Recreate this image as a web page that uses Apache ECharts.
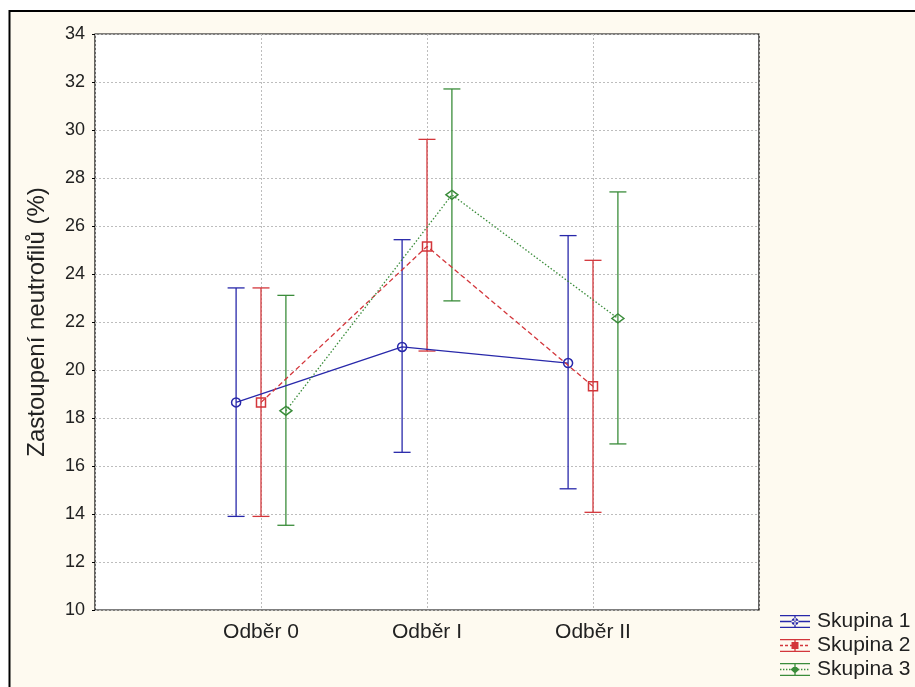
<!DOCTYPE html>
<html>
<head>
<meta charset="utf-8">
<script src="https://cdn.jsdelivr.net/npm/echarts@6/dist/echarts.min.js"></script>
<style>
html,body{margin:0;padding:0;background:#fff;}
#chart{width:915px;height:687px;}
</style>
</head>
<body>
<div id="chart"></div>
<script>
// ---- data ----
const categories = ['Odběr 0', 'Odběr I', 'Odběr II'];
const groupNames = ['Skupina 1', 'Skupina 2', 'Skupina 3'];
const yTicks = [10, 12, 14, 16, 18, 20, 22, 24, 26, 28, 30, 32, 34];
const means1 = [18.65, 20.96, 20.29];
const low1   = [13.90, 16.57, 15.05];
const high1  = [23.42, 25.43, 25.60];
const means2 = [18.65, 25.15, 19.32];
const low2   = [13.90, 20.79, 14.07];
const high2  = [23.42, 29.61, 24.57];
const means3 = [18.30, 27.30, 22.15];
const low3   = [13.53, 22.88, 16.92];
const high3  = [23.11, 31.71, 27.42];

// ---- styling ----
const colors = ['#2828aa', '#d3363b', '#3a8c3a'];
const offsets = [-0.15, 0, 0.15];
const lineTypes = ['solid', [5, 3], [1.5, 2]];
const symbols = ['circle', 'rect', 'diamond'];
const symbolSizes = [9, 9, [12, 9]];
const groups = [
  {m: means1, lo: low1, hi: high1},
  {m: means2, lo: low2, hi: high2},
  {m: means3, lo: low3, hi: high3}
];

function legendPath(g) {
  let p = 'M0,0H30V1.3H0Z M0,11.7H30V13H0Z M14.35,0H15.65V13H14.35Z ';
  if (g === 0) p += 'M0,5.85H30V7.15H0Z ';
  else if (g === 1) { for (let x = 0; x < 30; x += 5) p += 'M' + x + ',5.85H' + (x + 3) + 'V7.15H' + x + 'Z '; }
  else { for (let x = 0; x < 30; x += 3) p += 'M' + x + ',5.85H' + (x + 1.4) + 'V7.15H' + x + 'Z '; }
  if (g === 0) p += 'M18.5,6.5A3.5,3.5 0 1 0 11.5,6.5A3.5,3.5 0 1 0 18.5,6.5Z';
  else if (g === 1) p += 'M11.5,3H18.5V10H11.5Z';
  else p += 'M15,2.5L19.5,6.5L15,10.5L10.5,6.5Z';
  return 'path://' + p;
}

const series = [];
groups.forEach((grp, g) => {
  const errData = grp.m.map((v, i) => [i + 1 + offsets[g], grp.lo[i], grp.hi[i]]);
  series.push({
    type: 'custom',
    name: groupNames[g] + ' err',
    z: 2,
    silent: true,
    renderItem: function (params, api) {
      const x = api.value(0);
      const top = api.coord([x, api.value(2)]);
      const bot = api.coord([x, api.value(1)]);
      const hw = 8.5;
      const st = {stroke: colors[g], lineWidth: 1.3};
      return {
        type: 'group',
        children: [
          {type: 'line', shape: {x1: top[0], y1: top[1], x2: bot[0], y2: bot[1]}, style: st},
          {type: 'line', shape: {x1: top[0] - hw, y1: top[1], x2: top[0] + hw, y2: top[1]}, style: st},
          {type: 'line', shape: {x1: bot[0] - hw, y1: bot[1], x2: bot[0] + hw, y2: bot[1]}, style: st}
        ]
      };
    },
    encode: {x: 0, y: [1, 2]},
    data: errData
  });
  series.push({
    type: 'line',
    name: groupNames[g],
    z: 3,
    data: grp.m.map((v, i) => [i + 1 + offsets[g], v]),
    symbol: symbols[g],
    symbolSize: symbolSizes[g],
    showSymbol: true,
    lineStyle: {color: colors[g], width: 1.3, type: lineTypes[g]},
    itemStyle: {color: 'rgba(255,255,255,0)', borderColor: colors[g], borderWidth: 1.5},
    emphasis: {disabled: true}
  });
});

const chart = echarts.init(document.getElementById('chart'));
chart.setOption({
  animation: false,
  backgroundColor: '#ffffff',
  graphic: [{
    type: 'rect', z: -10, silent: true,
    shape: {x: 9.5, y: 11, width: 1000, height: 1000},
    style: {fill: '#fefaf0', stroke: '#000', lineWidth: 2}
  }],
  grid: {
    left: 95, top: 34, width: 664, height: 576,
    show: true, backgroundColor: '#ffffff', borderColor: '#000', borderWidth: 1.2
  },
  xAxis: {
    type: 'value', min: 0, max: 4, interval: 1,
    axisLine: {show: false},
    axisTick: {show: false},
    axisLabel: {
      fontFamily: 'Liberation Sans, Arial, sans-serif', fontSize: 21, color: '#222', margin: 12,
      formatter: v => categories[v - 1] || ''
    },
    splitLine: {show: true, lineStyle: {color: '#bdbdbd', type: [2, 2], width: 1}}
  },
  yAxis: {
    type: 'value', min: yTicks[0], max: yTicks[yTicks.length - 1], interval: 2,
    name: 'Zastoupení neutrofilů (%)',
    nameLocation: 'middle', nameGap: 46, nameRotate: 90,
    nameTextStyle: {fontFamily: 'Liberation Sans, Arial, sans-serif', fontSize: 24, color: '#222'},
    axisLine: {show: false},
    axisTick: {show: true, length: 3, lineStyle: {color: '#000'}},
    axisLabel: {fontFamily: 'Liberation Sans, Arial, sans-serif', fontSize: 18, color: '#222', margin: 10,
      formatter: v => yTicks.indexOf(v) >= 0 ? String(v) : ''},
    splitLine: {show: true, lineStyle: {color: '#bdbdbd', type: [2, 2], width: 1}}
  },
  legend: {
    orient: 'vertical', left: 775, top: 606,
    itemWidth: 30, itemHeight: 13, itemGap: 3,
    textStyle: {fontFamily: 'Liberation Sans, Arial, sans-serif', fontSize: 21, color: '#222', padding: [0, 0, 0, 2]},
    data: groupNames.map((n, g) => ({
      name: n, icon: legendPath(g),
      itemStyle: {color: colors[g], borderWidth: 0}
    }))
  },
  series: series
});
</script>
</body>
</html>
